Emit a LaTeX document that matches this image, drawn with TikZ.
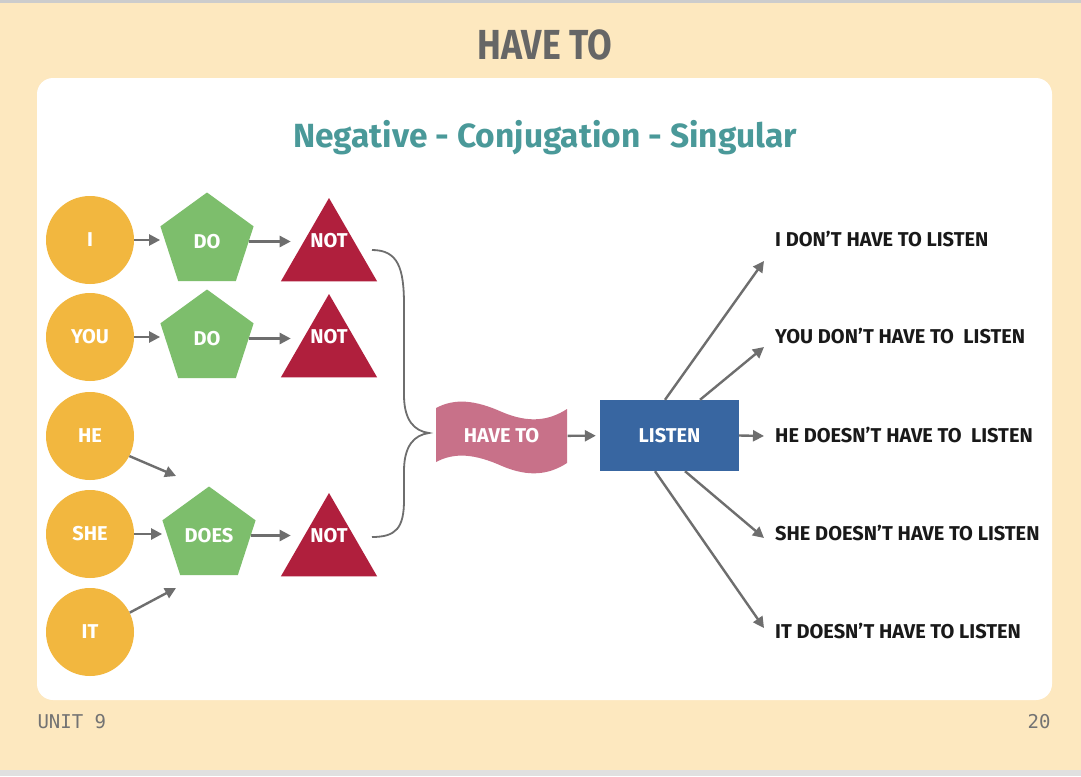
\documentclass[tikz,border=0pt]{standalone}
\usepackage{fontspec}
\setmainfont{Fira Sans}
\newfontfamily\titlefont[FakeStretch=0.85]{Fira Sans}
\newfontfamily\footfont{DejaVu Sans Mono}
\usetikzlibrary{shapes.geometric,arrows.meta}
\definecolor{cream}{HTML}{FDE8BF}
\definecolor{pronorange}{HTML}{F2B73F}
\definecolor{auxgreen}{HTML}{7DBE6C}
\definecolor{notred}{HTML}{B01F3D}
\definecolor{wavepink}{HTML}{C87189}
\definecolor{verbblue}{HTML}{3866A1}
\definecolor{arrgray}{HTML}{6E6E6E}
\definecolor{subteal}{HTML}{4A9999}
\definecolor{titlegray}{HTML}{666666}
\begin{document}
\begin{tikzpicture}[x=1pt,y=-1pt,
    lbl/.style={text=white,font=\bfseries\fontsize{20}{20}\selectfont},
    pron/.style={lbl,circle,fill=pronorange,minimum size=88pt,inner sep=0pt},
    aux/.style={lbl,regular polygon,regular polygon sides=5,fill=auxgreen,minimum size=98pt,inner sep=0pt},
    neg/.style={lbl,regular polygon,regular polygon sides=3,fill=notred,minimum size=111pt,inner sep=0pt,text height=10pt,text depth=22pt},
    arr/.style={-{Triangle[length=11pt,width=11pt]},draw=arrgray,line width=2.4pt},
    sent/.style={anchor=west,inner sep=0pt,text=black!90,font=\bfseries\fontsize{20}{20}\selectfont}]
  \useasboundingbox (0,0) rectangle (1081,776);
  \fill[cream] (0,0) rectangle (1081,776);
  \fill[black!20] (0,0) rectangle (1081,3);
  \fill[black!12] (0,770) rectangle (1081,776);
  \fill[white,rounded corners=16pt] (37,78) rectangle (1052,700);

  \node[text=titlegray,font=\titlefont\bfseries\fontsize{42}{42}\selectfont] (title) at (545,45) {HAVE TO};
  \node[text=subteal,font=\bfseries\fontsize{33.5}{33.5}\selectfont] (sub) at (545,138) {Negative - Conjugation - Singular};
  \node[anchor=west,text=black!55,font=\footfont\fontsize{19}{19}\selectfont] (unit) at (34,722) {UNIT 9};
  \node[anchor=east,text=black!55,font=\footfont\fontsize{19}{19}\selectfont] (page) at (1054,722) {20};

  % pronouns, auxiliaries, negation
  \node[pron] (i) at (90,240) {I};
  \node[pron] (you) at (90,337) {YOU};
  \node[pron] (he) at (90,436) {HE};
  \node[pron] (she) at (90,534) {SHE};
  \node[pron] (it) at (90,632) {IT};

  \node[aux] (do1) at (207,241.5) {DO};
  \node[aux] (do2) at (207,338.5) {DO};
  \node[aux] (does) at (209,535.5) {DOES};

  \node[neg] (not1) at (329,253.5) {NOT};
  \node[neg] (not2) at (329,349.5) {NOT};
  \node[neg] (not3) at (329,548.5) {NOT};

  \coordinate (heend) at (176,476);
  \coordinate (itend) at (176,588);

  \draw[arr,shorten >=5pt] (i) -- (i -| do1.west);
  \draw[arr,shorten >=5pt] (you) -- (you -| do2.west);
  \draw[arr,shorten >=5pt] (she) -- (she -| does.west);
  \draw[arr] (he.-27) -- (heend);
  \draw[arr] (it.26) -- (itend);
  \draw[arr,shorten >=6pt] (do1.east) -- (not1.west |- do1.east);
  \draw[arr,shorten >=6pt] (do2.east) -- (not2.west |- do2.east);
  \draw[arr,shorten >=6pt] (does.east) -- (not3.west |- does.east);

  % brace
  \draw[arrgray,line width=1.8pt] (372,250) .. controls (398,250) and (404,268) .. (404,305)
    -- (404,395) .. controls (404,420) and (414,431) .. (429,433)
    .. controls (414,435) and (404,446) .. (404,471)
    -- (404,500) .. controls (404,528) and (396,537) .. (372,537);

  % have to, listen
  \fill[wavepink] (436,408) .. controls (455,398) and (475,400) .. (502,412)
    .. controls (530,424) and (550,420) .. (567,409) -- (567,463)
    .. controls (550,474) and (530,478) .. (502,466)
    .. controls (475,454) and (455,452) .. (436,462) -- cycle;
  \node[lbl,minimum width=132pt,minimum height=56pt,inner sep=0pt] (have) at (501.5,436) {HAVE TO};
  \node[lbl,rectangle,fill=verbblue,minimum width=139pt,minimum height=71pt] (listen) at (669.5,435.5) {LISTEN};
  \draw[arr,shorten >=4pt] (have) -- (listen);

  \node[sent] (s1) at (775,239) {I DON’T HAVE TO LISTEN};
  \node[sent] (s2) at (775,336) {YOU DON’T HAVE TO~ LISTEN};
  \node[sent] (s3) at (775,435) {HE DOESN’T HAVE TO~ LISTEN};
  \node[sent] (s4) at (775,533) {SHE DOESN’T HAVE TO LISTEN};
  \node[sent] (s5) at (775,631) {IT DOESN’T HAVE TO LISTEN};

  \coordinate (t1) at (764,261);
  \coordinate (t2) at (764,347);
  \coordinate (t3) at (764,436);
  \coordinate (t4) at (764,538);
  \coordinate (t5) at (764,628);

  \draw[arr] ([xshift=-4.5pt]listen.north) -- (t1);
  \draw[arr] ([xshift=30.5pt]listen.north) -- (t2);
  \draw[arr] (listen.east) -- (t3);
  \draw[arr] ([xshift=15.5pt]listen.south) -- (t4);
  \draw[arr] ([xshift=-14.5pt]listen.south) -- (t5);
\end{tikzpicture}
\end{document}
